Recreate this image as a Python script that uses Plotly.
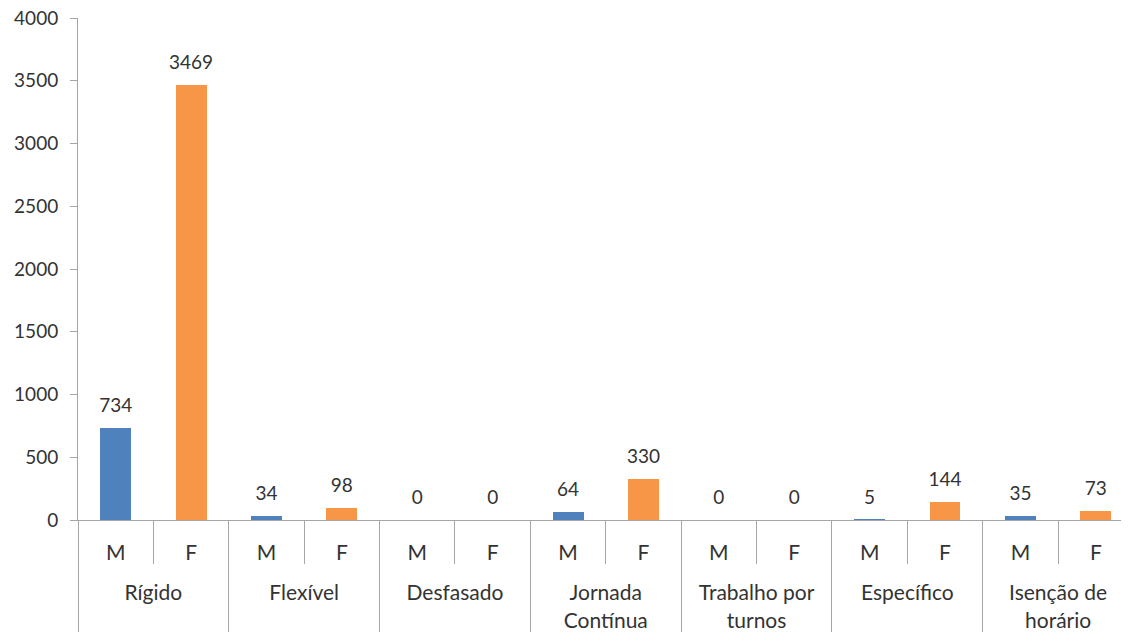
import plotly.graph_objects as go

grupos = ["Rígido", "Flexível", "Desfasado", "Jornada<br>Contínua",
          "Trabalho por<br>turnos", "Específico", "Isenção de<br>horário"]
sexos = ["M", "F"]
masculino = [734, 34, 0, 64, 0, 5, 35]
feminino = [3469, 98, 0, 330, 0, 144, 73]

# eixo multicategoria (grupo, sexo) intercalado
# a linha vazia no rótulo M/F empurra o nível dos grupos para baixo
x_grupo = []
x_sexo = []
valores = []
cores = []
for g, m, f in zip(grupos, masculino, feminino):
    x_grupo += [g, g]
    x_sexo += [s + "<br>\u00a0" for s in sexos]
    valores += [m, f]
    cores += ["#4F81BD", "#F79646"]

fig = go.Figure()
fig.add_trace(go.Bar(
    x=[x_grupo, x_sexo],
    y=valores,
    marker=dict(color=cores, line=dict(width=0)),
    width=0.41,
    hoverinfo='y',
))

# rótulos de dados (marcador transparente para afastar o texto da barra)
fig.add_trace(go.Scatter(
    x=[x_grupo, x_sexo],
    y=valores,
    mode='markers+text',
    text=[str(v) for v in valores],
    textposition='top center',
    textfont=dict(size=19, color='#333333'),
    marker=dict(size=16, color='rgba(0,0,0,0)'),
    hoverinfo='skip',
    cliponaxis=False,
))

fig.update_layout(
    width=1121,
    height=627,
    margin=dict(l=70, r=0, t=10, b=115),
    plot_bgcolor='white',
    paper_bgcolor='white',
    font=dict(family='Lato, Liberation Sans, sans-serif', size=19, color='#333333'),
    showlegend=False,
    bargap=0,
    xaxis=dict(
        type='multicategory',
        range=[-0.5, 13.44],
        showline=True,
        linecolor='#A6A6A6',
        ticks='outside',
        tickson='boundaries',
        ticklen=43,
        tickcolor='#A6A6A6',
        ticklabelstandoff=14,
        showdividers=True,
        dividercolor='#A6A6A6',
        dividerwidth=1,
        tickfont=dict(size=21, color='#333333'),
        automargin=False,
    ),
    yaxis=dict(
        range=[0, 4000],
        dtick=500,
        showgrid=False,
        zeroline=False,
        showline=True,
        linecolor='#A6A6A6',
        ticks='outside',
        ticklen=7,
        tickcolor='#A6A6A6',
        ticklabelstandoff=8,
        ticklabeloverflow='allow',
        tickfont=dict(size=19, color='#333333'),
        automargin=False,
    ),
)

fig.write_html("out.html")
